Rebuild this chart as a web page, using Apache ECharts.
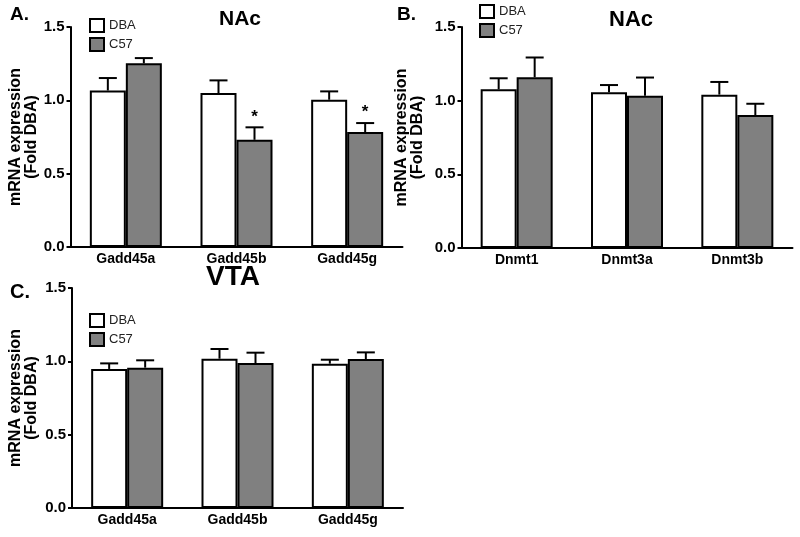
<!DOCTYPE html>
<html lang="en">
<head>
    <meta charset="UTF-8">
    <title>mRNA expression</title>
    <script src="https://cdn.jsdelivr.net/npm/echarts@6/dist/echarts.min.js"></script>
    <style>
        html, body { margin: 0; padding: 0; background: #fff; }
    </style>
</head>
<body>
<div id="main" style="width: 800px; height: 537px;"></div>
<script type="text/javascript">
    // panel A - NAc, Gadd45 family
    var catsA = ['Gadd45a', 'Gadd45b', 'Gadd45g'];
    var dbaA = [1.067, 1.050, 1.004];
    var dbaErrA = [0.085, 0.086, 0.057];
    var c57A = [1.252, 0.731, 0.784];
    var c57ErrA = [0.036, 0.085, 0.061];
    var sigA = ['', '*', '*'];

    // panel B - NAc, Dnmt family
    var catsB = ['Dnmt1', 'Dnmt3a', 'Dnmt3b'];
    var dbaB = [1.077, 1.057, 1.041];
    var dbaErrB = [0.075, 0.049, 0.086];
    var c57B = [1.159, 1.034, 0.902];
    var c57ErrB = [0.134, 0.123, 0.077];
    var sigB = ['', '', ''];

    // panel C - VTA, Gadd45 family
    var catsC = ['Gadd45a', 'Gadd45b', 'Gadd45g'];
    var dbaC = [0.948, 1.018, 0.984];
    var dbaErrC = [0.038, 0.066, 0.027];
    var c57C = [0.957, 0.988, 1.016];
    var c57ErrC = [0.050, 0.071, 0.045];
    var sigC = ['', '', ''];

    var yTicks = [0, 0.5, 1.0, 1.5];

    var FONT = 'Liberation Sans, Arial, sans-serif';
    var GREY = '#808080';
    var BAR_W = 36;

    var chart = echarts.init(document.getElementById('main'));

    function errData(means, errs) {
        return means.map(function (m, i) { return [i, m, errs[i]]; });
    }

    // upward error bar with cap, optional significance star
    function errRender(offset, sig) {
        return function (params, api) {
            var x = api.coord([api.value(0), 0])[0] + offset;
            var yMean = api.coord([api.value(0), api.value(1)])[1];
            var yTop = api.coord([api.value(0), api.value(1) + api.value(2)])[1];
            var kids = [
                {type: 'line', shape: {x1: x, y1: yMean, x2: x, y2: yTop},
                    style: {stroke: '#000', lineWidth: 2}},
                {type: 'line', shape: {x1: x - 9, y1: yTop, x2: x + 9, y2: yTop},
                    style: {stroke: '#000', lineWidth: 2}}
            ];
            var s = sig[params.dataIndex];
            if (s) {
                kids.push({type: 'text', style: {text: s, x: x, y: yTop - 2,
                    align: 'center', verticalAlign: 'bottom',
                    font: 'bold 17px ' + FONT, fill: '#000'}});
            }
            return {type: 'group', children: kids};
        };
    }

    function panelSeries(idx, dba, dbaErr, c57, c57Err, sig) {
        var bar = {
            type: 'bar', xAxisIndex: idx, yAxisIndex: idx,
            barWidth: BAR_W, barGap: '0%',
            emphasis: {disabled: true}
        };
        return [
            Object.assign({}, bar, {name: 'DBA', data: dba,
                itemStyle: {color: '#fff', borderColor: '#000', borderWidth: 2}}),
            Object.assign({}, bar, {name: 'C57', data: c57,
                itemStyle: {color: GREY, borderColor: '#000', borderWidth: 2}}),
            {type: 'custom', xAxisIndex: idx, yAxisIndex: idx, z: 5,
                renderItem: errRender(-BAR_W / 2, ['', '', '']), data: errData(dba, dbaErr)},
            {type: 'custom', xAxisIndex: idx, yAxisIndex: idx, z: 5,
                renderItem: errRender(BAR_W / 2, sig), data: errData(c57, c57Err)}
        ];
    }

    function xAxis(idx, cats) {
        return {
            type: 'category', gridIndex: idx, data: cats,
            axisLine: {lineStyle: {color: '#000', width: 2}},
            axisTick: {show: false},
            axisLabel: {color: '#000', fontFamily: FONT, fontWeight: 'bold', fontSize: 14, margin: 5}
        };
    }

    function yAxis(idx, gap) {
        return {
            type: 'value', gridIndex: idx, min: 0, max: 1.5, interval: 0.5,
            splitLine: {show: false},
            axisLine: {show: true, lineStyle: {color: '#000', width: 2}},
            axisTick: {show: true, length: 4, lineStyle: {color: '#000', width: 2}},
            axisLabel: {color: '#000', fontFamily: FONT, fontWeight: 'bold', fontSize: 15, margin: 6,
                formatter: function (v) { return yTicks.indexOf(v) >= 0 ? v.toFixed(1) : ''; }},
            name: 'mRNA expression\n(Fold DBA)',
            nameLocation: 'middle', nameRotate: 90, nameGap: gap,
            nameTextStyle: {color: '#000', fontFamily: FONT, fontWeight: 'bold', fontSize: 16, lineHeight: 16}
        };
    }

    function legend(left, top) {
        return {
            data: ['DBA', 'C57'], orient: 'vertical', left: left, top: top,
            padding: 0, icon: 'rect', itemWidth: 14, itemHeight: 13, itemGap: 4,
            selectedMode: false,
            itemStyle: {borderColor: '#000', borderWidth: 2},
            textStyle: {color: '#222', fontFamily: FONT, fontSize: 13}
        };
    }

    function txt(s, x, y, size, align) {
        return {type: 'text', x: x, y: y,
            style: {text: s, font: 'bold ' + size + 'px ' + FONT, fill: '#000',
                align: align, verticalAlign: 'top'}};
    }

    chart.setOption({
        animation: false,
        grid: [
            {left: 70.5, top: 27, width: 332, height: 220},
            {left: 461.5, top: 27, width: 331, height: 221},
            {left: 72, top: 288, width: 331, height: 220}
        ],
        xAxis: [xAxis(0, catsA), xAxis(1, catsB), xAxis(2, catsC)],
        yAxis: [yAxis(0, 31), yAxis(1, 36), yAxis(2, 32)],
        legend: [legend(89, 18), legend(479, 4), legend(89, 313)],
        series: [].concat(
            panelSeries(0, dbaA, dbaErrA, c57A, c57ErrA, sigA),
            panelSeries(1, dbaB, dbaErrB, c57B, c57ErrB, sigB),
            panelSeries(2, dbaC, dbaErrC, c57C, c57ErrC, sigC)
        ),
        graphic: [
            txt('A.', 10, 5, 19, 'left'),
            txt('B.', 397, 5, 19, 'left'),
            txt('C.', 10, 282, 20, 'left'),
            txt('NAc', 240, 9, 21, 'center'),
            txt('NAc', 631, 9, 22, 'center'),
            txt('VTA', 233, 263, 28, 'center')
        ]
    });
</script>
</body>
</html>
